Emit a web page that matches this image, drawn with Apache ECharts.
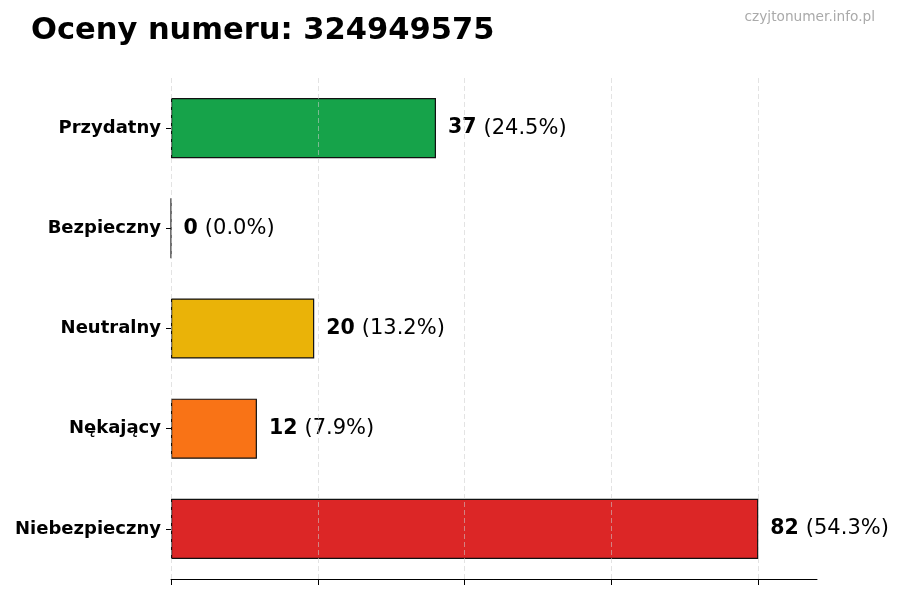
<!DOCTYPE html>
<html>
  <head>
    <meta charset="utf-8" />
    <title>Oceny numeru</title>
    <script src="https://cdn.jsdelivr.net/npm/echarts@6.0.0/dist/echarts.min.js"></script>
  </head>
  <body style="margin: 0">
    <div id="main" style="width: 900px; height: 600px"></div>
    <script type="text/javascript">
      // data
      var categories = ["Przydatny", "Bezpieczny", "Neutralny", "Nękający", "Niebezpieczny"];
      var counts = [37, 0, 20, 12, 82];
      var percents = ["24.5", "0.0", "13.2", "7.9", "54.3"];
      var barColors = ["#16a34a", "#16a34a", "#eab308", "#f97316", "#dc2626"];
      var xTicks = [0, 20.5, 41, 61.5, 82];

      var myChart = echarts.init(document.getElementById("main"));
      var font = "DejaVu Sans";

      var option = {
        backgroundColor: "#fff",
        textStyle: { fontFamily: font },
        title: [
          {
            text: "Oceny numeru: 324949575",
            left: 26,
            top: 11,
            textStyle: { fontFamily: font, fontSize: 30.5, fontWeight: "bold", color: "#000" },
          },
          {
            text: "czyjtonumer.info.pl",
            right: 20,
            top: 5,
            textStyle: { fontFamily: font, fontSize: 13.7, fontWeight: "normal", color: "#aaaaaa" },
          },
        ],
        grid: { left: 171, right: 83, top: 78, bottom: 21, containLabel: false },
        xAxis: {
          type: "value",
          min: 0,
          max: 90.2,
          interval: 20.5,
          z: 5,
          axisLine: { show: true, lineStyle: { color: "#000", width: 1 } },
          axisTick: { show: true, length: 6, customValues: xTicks, lineStyle: { color: "#000" } },
          axisLabel: { show: false },
          splitLine: {
            show: true,
            customValues: xTicks,
            lineStyle: { color: "#cccccc", type: [5, 3], width: 0.8, opacity: 0.7 },
          },
        },
        yAxis: {
          type: "category",
          inverse: true,
          data: categories,
          axisLine: { show: false },
          axisTick: { show: true, alignWithLabel: true, length: 5, lineStyle: { color: "#000" } },
          axisLabel: {
            margin: 10,
            fontFamily: font,
            fontSize: 18,
            fontWeight: "bold",
            color: "#000",
          },
        },
        series: [
          {
            type: "bar",
            barWidth: "60%",
            data: counts.map(function (v, i) {
              return { value: v, itemStyle: { color: barColors[i] } };
            }),
            itemStyle: { borderColor: "#111", borderWidth: 1.2 },
            label: {
              show: true,
              position: "right",
              distance: 12,
              formatter: function (p) {
                return "{b|" + counts[p.dataIndex] + "}{n|(" + percents[p.dataIndex] + "%)}";
              },
              rich: {
                b: { fontFamily: font, fontSize: 20.5, fontWeight: "bold", color: "#000", padding: [0, 7, 0, 0] },
                n: { fontFamily: font, fontSize: 21, color: "#000" },
              },
            },
          },
        ],
      };

      myChart.setOption(option);
    </script>
  </body>
</html>
